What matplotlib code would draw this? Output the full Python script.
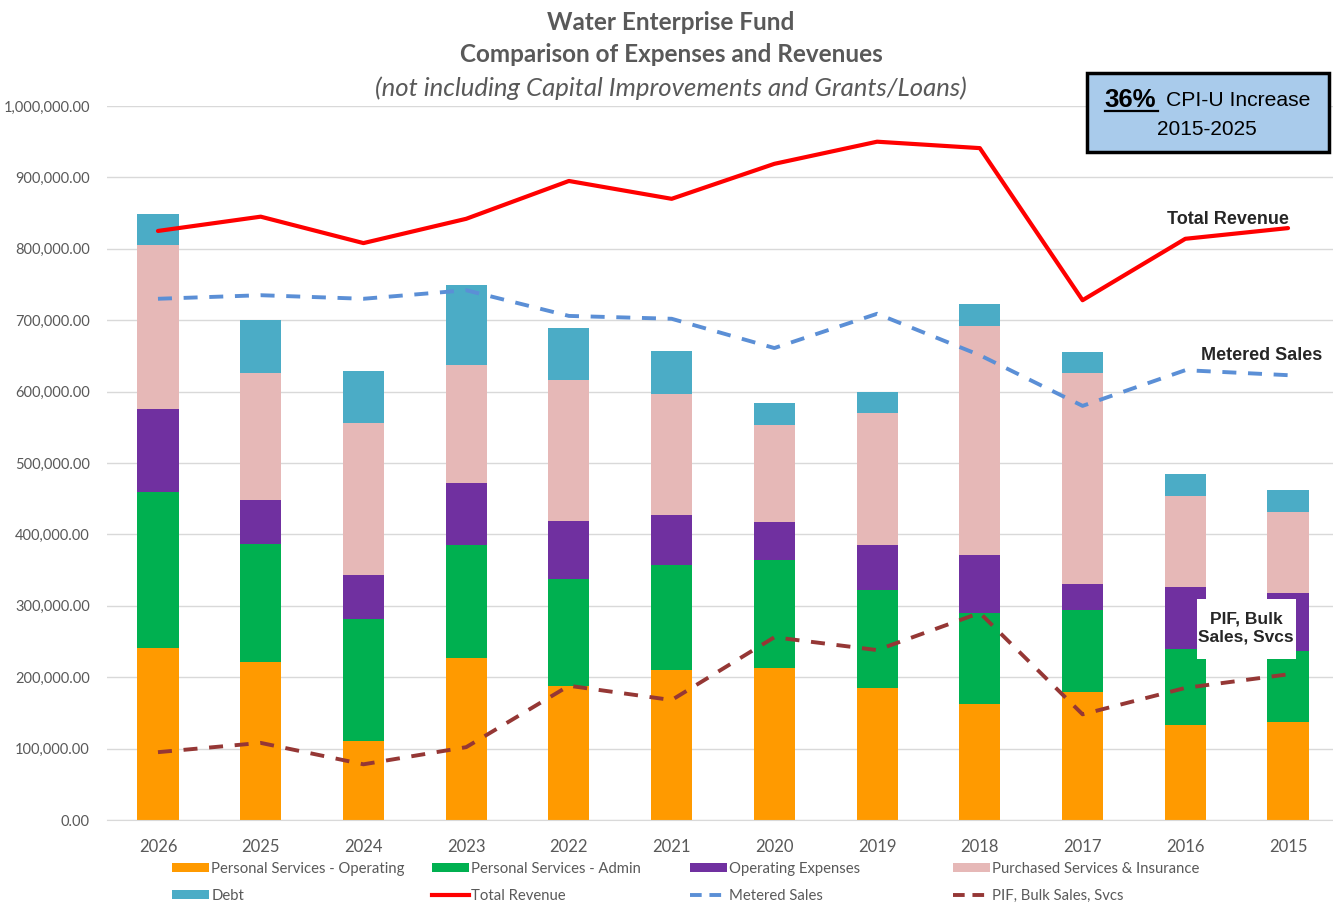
import matplotlib
matplotlib.use("Agg")
import matplotlib.pyplot as plt
import numpy as np
from matplotlib.patches import Patch, Rectangle
from matplotlib.lines import Line2D
from matplotlib.ticker import FuncFormatter

years = ["2026", "2025", "2024", "2023", "2022", "2021", "2020", "2019", "2018", "2017", "2016", "2015"]

ps_operating = [241000, 221000, 111000, 227000, 188000, 210000, 213000, 185000, 162000, 179000, 133000, 137000]
ps_admin     = [218000, 166000, 171000, 158000, 150000, 147000, 151000, 137000, 128000, 115000, 106000, 100000]
operating    = [117000,  61000,  61000,  87000,  81000,  70000,  53000,  63000,  81000,  37000,  87000,  81000]
purchased    = [229000, 178000, 213000, 165000, 197000, 170000, 136000, 185000, 321000, 295000, 128000, 113000]
debt         = [ 44000,  74000,  73000, 112000,  73000,  60000,  31000,  29000,  31000,  29000,  31000,  31000]

total_revenue = [825000, 845000, 808000, 842000, 895000, 870000, 919000, 950000, 941000, 728000, 814000, 829000]
metered_sales = [730000, 735000, 730000, 742000, 706000, 702000, 661000, 709000, 651000, 580000, 630000, 623000]
pif_bulk      = [ 95000, 108000,  78000, 102000, 188000, 168000, 256000, 238000, 290000, 148000, 185000, 204000]

c_orange = "#FF9A00"
c_green = "#00B050"
c_purple = "#7030A0"
c_pink = "#E6B8B7"
c_debt = "#4BACC6"
c_red = "#FF0000"
c_blue = "#5B8FD6"
c_dred = "#953735"

FONT = "Lato"
plt.rcParams["font.family"] = [FONT, "DejaVu Sans"]

W, H = 1333, 905
fig = plt.figure(figsize=(W / 100, H / 100), dpi=100)
fig.patch.set_facecolor("white")

x0 = 106.6
x_right = 1339.4
y_bot = 820
y_top = 106
ax = fig.add_axes([x0 / W, 1 - y_bot / H, (x_right - x0) / W, (y_bot - y_top) / H])

x = np.arange(len(years))
bw = 0.40
segments = [
    (ps_operating, c_orange),
    (ps_admin, c_green),
    (operating, c_purple),
    (purchased, c_pink),
    (debt, c_debt),
]
bottom = np.zeros(len(years))
for vals, col in segments:
    ax.bar(x, vals, bw, bottom=bottom, color=col, zorder=2, linewidth=0)
    bottom += np.array(vals)

dash = (0, (3.6, 3.0))
ax.plot(x, total_revenue, color=c_red, lw=3, zorder=3, solid_capstyle="round")
ax.plot(x, metered_sales, color=c_blue, lw=2.8, ls=dash, zorder=3)
ax.plot(x, pif_bulk, color=c_dred, lw=2.8, ls=dash, zorder=3)

ax.set_xlim(-0.5, len(years) - 0.5)
ax.set_ylim(0, 1_000_000)
ax.set_yticks(np.arange(0, 1_000_001, 100_000))
ax.yaxis.set_major_formatter(FuncFormatter(lambda v, p: f"{v:,.2f}"))
ax.set_xticks(x)
ax.set_xticklabels(years)
ax.grid(axis="y", color="#D9D9D9", lw=1, zorder=0)
for s in ax.spines.values():
    s.set_visible(False)
ax.spines["bottom"].set_visible(True)
ax.spines["bottom"].set_color("#D9D9D9")
ax.tick_params(axis="both", length=0, colors="#595959")
ax.tick_params(axis="y", pad=12, labelsize=10.5)
ax.tick_params(axis="x", pad=14, labelsize=12)
ax.set_axisbelow(True)

def fy(py):
    return 1 - py / H

fig.text(671 / W, fy(22), "Water Enterprise Fund", ha="center", va="center",
         fontsize=17.5, fontweight="bold", color="#595959")
fig.text(671 / W, fy(55), "Comparison of Expenses and Revenues", ha="center", va="center",
         fontsize=17.5, fontweight="bold", color="#595959")
fig.text(671 / W, fy(88), "(not including Capital Improvements and Grants/Loans)", ha="center",
         va="center", fontsize=18.5, style="italic", color="#595959")

# CPI box
bx0, by0, bx1, by1 = 1087, 73, 1329, 152
fig.patches.append(Rectangle((bx0 / W, fy(by1)), (bx1 - bx0) / W, (by1 - by0) / H,
                             transform=fig.transFigure, facecolor="#A9CBEB",
                             edgecolor="black", lw=2.5, zorder=5))
fig.text(1104 / W, fy(100), "36%", ha="left", va="center", fontsize=18.5,
         fontweight="bold", color="black", family="Liberation Sans", zorder=6)
fig.text(1166 / W, fy(101), "CPI-U Increase", ha="left", va="center", fontsize=15.2,
         color="black", family="Liberation Sans", zorder=6)
fig.text(1207 / W, fy(129), "2015-2025", ha="center", va="center", fontsize=15,
         color="black", family="Liberation Sans", zorder=6)
fig.lines.append(Line2D([1105 / W, 1158 / W], [fy(111), fy(111)], transform=fig.transFigure,
                        color="black", lw=1.6, zorder=6))

# Annotations
fig.text(1228 / W, fy(219), "Total Revenue", ha="center", va="center", fontsize=13,
         fontweight="bold", color="#262626", family="Liberation Sans")
fig.text(1262 / W, fy(355), "Metered Sales", ha="center", va="center", fontsize=13,
         fontweight="bold", color="#262626", family="Liberation Sans")
fig.patches.append(Rectangle((1197 / W, fy(659)), (1296 - 1197) / W, (659 - 599) / H,
                             transform=fig.transFigure, facecolor="white", edgecolor="none",
                             zorder=5))
fig.text(1246 / W, fy(628), "PIF, Bulk\nSales, Svcs", ha="center", va="center", fontsize=12.5,
         fontweight="bold", color="#262626", family="Liberation Sans", linespacing=1.3, zorder=6)

# Legend: four columns, two rows
ldash = (0, (3.0, 2.0))
cols = [
    [(Patch(facecolor=c_orange), "Personal Services - Operating"),
     (Patch(facecolor=c_debt), "Debt")],
    [(Patch(facecolor=c_green), "Personal Services - Admin"),
     (Line2D([], [], color=c_red, lw=3), "Total Revenue")],
    [(Patch(facecolor=c_purple), "Operating Expenses"),
     (Line2D([], [], color=c_blue, lw=2.8, ls=ldash), "Metered Sales")],
    [(Patch(facecolor=c_pink), "Purchased Services & Insurance"),
     (Line2D([], [], color=c_dred, lw=2.8, ls=ldash), "PIF, Bulk Sales, Svcs")],
]
col_x = [172, 432, 690, 953]
for cx, entries in zip(col_x, cols):
    leg = fig.legend([e[0] for e in entries], [e[1] for e in entries],
                     loc="upper left", bbox_to_anchor=(cx / W, fy(862)),
                     frameon=False, fontsize=10.7, handlelength=2.5, handleheight=0.6,
                     handletextpad=0.15, labelspacing=0.85, borderpad=0, borderaxespad=0)
    for t in leg.get_texts():
        t.set_color("#595959")

fig.savefig("out.png", dpi=100, facecolor="white")
